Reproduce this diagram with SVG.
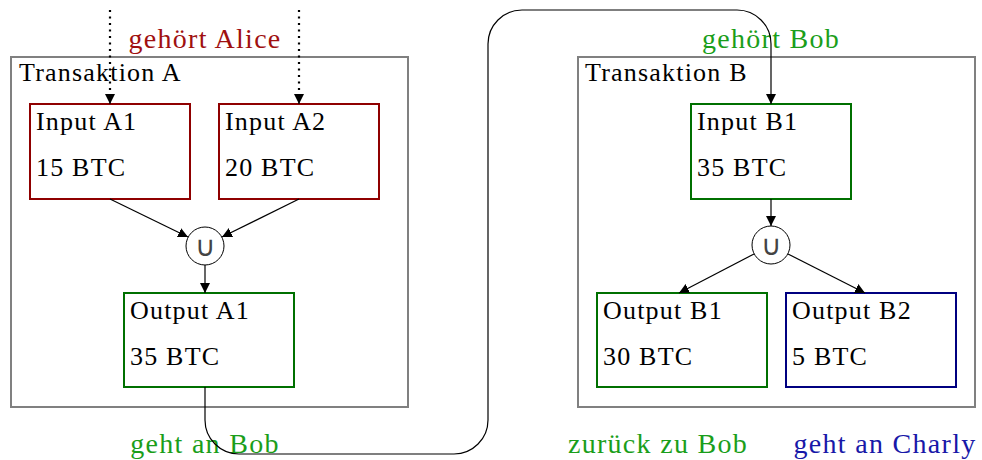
<svg xmlns="http://www.w3.org/2000/svg" width="982" height="460" viewBox="0 0 982 460">
<defs>
<marker id="ah" viewBox="0 0 10 10" refX="10" refY="5" markerWidth="10" markerHeight="10" markerUnits="userSpaceOnUse" orient="auto">
<path d="M0,0 L10,5 L0,10 z" fill="#000"/>
</marker>
</defs>
<style>
text{font-family:"Liberation Serif","DejaVu Serif",serif;font-size:26px;letter-spacing:1.2px;fill:#000}
.tx{fill:#fff;stroke:#808080;stroke-width:2}
.red{fill:#fff;stroke:#8f0000;stroke-width:2}
.grn{fill:#fff;stroke:#007000;stroke-width:2}
.blu{fill:#fff;stroke:#000080;stroke-width:2}
.u{fill:#fff;stroke:#000;stroke-width:1}
.ut{font-family:"DejaVu Sans",sans-serif;font-size:28px;font-weight:200;letter-spacing:0;fill:#444;text-anchor:middle}
.e{stroke:#000;stroke-width:1.2;fill:none}
.d{stroke:#000;stroke-width:2.2;fill:none;stroke-dasharray:2,4.5}
.lbl{font-size:28px;letter-spacing:1.3px;text-anchor:middle}
</style>
<g id="transaktionA">
<rect class="tx" x="11" y="57" width="397" height="350"/>
<text x="19" y="81">Transaktion A</text>
</g>
<g id="transaktionB">
<rect class="tx" x="578" y="57" width="397" height="350"/>
<text x="585" y="81">Transaktion B</text>
</g>
<g id="inputA1">
<rect class="red" x="30" y="104" width="160" height="95"/>
<text x="36" y="130">Input A1</text>
<text x="36" y="176">15 BTC</text>
</g>
<g id="inputA2">
<rect class="red" x="219" y="104" width="160" height="95"/>
<text x="225" y="130">Input A2</text>
<text x="225" y="176">20 BTC</text>
</g>
<g id="unionA">
<circle class="u" cx="205" cy="246" r="19"/>
<text class="ut" x="205" y="256">∪</text>
</g>
<g id="outputA1">
<rect class="grn" x="124" y="293" width="170" height="94"/>
<text x="130" y="319">Output A1</text>
<text x="130" y="365">35 BTC</text>
</g>
<g id="inputB1">
<rect class="grn" x="691" y="104" width="160" height="95"/>
<text x="697" y="130">Input B1</text>
<text x="697" y="176">35 BTC</text>
</g>
<g id="unionB">
<circle class="u" cx="771" cy="245" r="19"/>
<text class="ut" x="771" y="255">∪</text>
</g>
<g id="outputB1">
<rect class="grn" x="597" y="293" width="170" height="94"/>
<text x="603" y="319">Output B1</text>
<text x="603" y="365">30 BTC</text>
</g>
<g id="outputB2">
<rect class="blu" x="786" y="293" width="170" height="94"/>
<text x="792" y="319">Output B2</text>
<text x="792" y="365">5 BTC</text>
</g>
<g id="labels">
<text class="lbl" x="205" y="48" style="fill:#a01010">gehört Alice</text>
<text class="lbl" x="771" y="48" style="fill:#1a9e1a">gehört Bob</text>
<text class="lbl" x="205" y="453" style="fill:#1a9e1a">geht an Bob</text>
<text class="lbl" x="658" y="453" style="fill:#1a9e1a">zurück zu Bob</text>
<text class="lbl" x="885" y="453" style="fill:#1818a8">geht an Charly</text>
</g>
<g id="connectors">
<path class="d" d="M110,10 V94"/>
<path class="e" d="M110,94 V104" marker-end="url(#ah)"/>
<path class="d" d="M299,10 V94"/>
<path class="e" d="M299,94 V104" marker-end="url(#ah)"/>
<path class="e" d="M110,199 L188,237" marker-end="url(#ah)"/>
<path class="e" d="M299,199 L222,237" marker-end="url(#ah)"/>
<path class="e" d="M205,265 V293" marker-end="url(#ah)"/>
<path class="e" d="M771,199 V226" marker-end="url(#ah)"/>
<path class="e" d="M754,254 L679,293" marker-end="url(#ah)"/>
<path class="e" d="M788,254 L865,293" marker-end="url(#ah)"/>
<path class="e" d="M205,387 V420 A34,34 0 0 0 239,454 H454 A34,34 0 0 0 488,420 V44 A34,34 0 0 1 522,10 H737 A34,34 0 0 1 771,44 V104" marker-end="url(#ah)"/>
</g>
</svg>
